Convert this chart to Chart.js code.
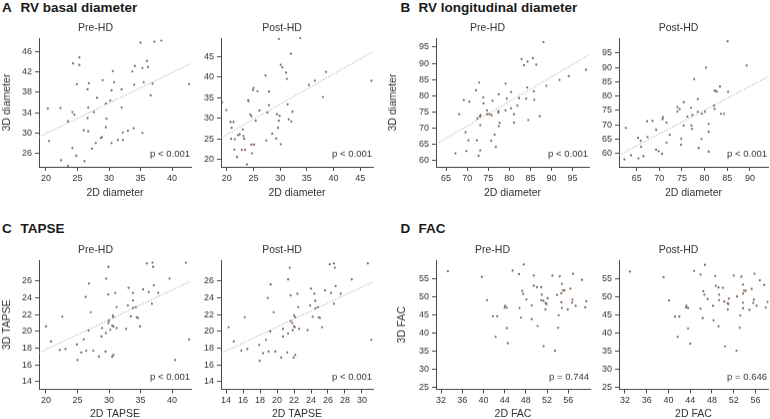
<!DOCTYPE html>
<html>
<head>
<meta charset="utf-8">
<script src="https://cdn.jsdelivr.net/npm/chart.js@4.4.0/dist/chart.umd.min.js"></script>
<style>
  body { margin: 0; width: 770px; height: 419px; overflow: hidden; background: #fff; position: relative;
         font-family: "Liberation Sans", Arial, sans-serif; }
  canvas { position: absolute; }
  .head { position: absolute; font-weight: bold; font-size: 13.5px; line-height: 15px; color: #1a1a1a; white-space: nowrap; }
</style>
</head>
<body>
<div class="head" style="left:2px;top:0px">A</div>
<div class="head" style="left:20.5px;top:0px">RV basal diameter</div>
<div class="head" style="left:400.5px;top:0px">B</div>
<div class="head" style="left:418.5px;top:0px">RV longitudinal diameter</div>
<div class="head" style="left:2px;top:221px">C</div>
<div class="head" style="left:20.5px;top:221px">TAPSE</div>
<div class="head" style="left:400.5px;top:221px">D</div>
<div class="head" style="left:418.5px;top:221px">FAC</div>
<script>
// ---- data ----
const basalPreX = [35.0, 37.2, 38.3, 25.3, 24.3, 25.3, 36.0, 34.1, 36.2, 35.3, 30.6, 33.7, 24.9, 26.8, 29.0, 30.8, 35.5, 34.0, 36.9, 42.7, 26.6, 30.4, 32.0, 28.1, 36.6, 30.2, 29.5, 26.7, 32.0, 20.3, 22.3, 24.2, 24.5, 27.6, 26.6, 29.6, 23.5, 29.5, 26.0, 26.7, 33.9, 33.0, 32.2, 35.3, 28.7, 28.9, 27.9, 30.4, 31.4, 32.2, 20.5, 27.3, 24.2, 24.8, 22.4, 26.1, 23.5];
const basalPreY = [47.8, 48.0, 48.2, 44.9, 43.7, 43.4, 44.2, 43.2, 43.0, 42.8, 42.2, 42.1, 39.6, 39.8, 40.4, 40.0, 40.0, 39.5, 39.7, 39.6, 38.6, 38.4, 38.6, 36.9, 37.4, 36.4, 35.8, 35.0, 35.0, 34.8, 34.9, 34.1, 33.6, 34.1, 32.9, 32.8, 32.3, 31.1, 30.5, 30.3, 30.9, 30.4, 30.1, 30.0, 29.0, 29.2, 28.0, 28.0, 28.6, 28.6, 28.4, 26.9, 27.0, 25.5, 24.6, 24.4, 23.5];
const basalPostX = [29.75, 33.75, 32.0, 30.1, 30.4, 38.6, 31.1, 31.25, 27.25, 36.5, 35.4, 47.1, 25.0, 24.9, 25.75, 27.9, 38.0, 24.0, 24.05, 19.1, 27.9, 31.4, 19.9, 26.1, 27.6, 32.3, 29.4, 29.9, 24.4, 24.6, 20.7, 21.25, 25.4, 29.75, 31.6, 32.1, 20.9, 29.6, 23.0, 22.4, 22.1, 23.1, 23.25, 28.5, 20.8, 21.5, 29.25, 27.4, 24.6, 25.1, 30.1, 21.4, 22.8, 23.4, 24.7, 21.9, 23.75];
const basalPostY = [49.3, 49.5, 45.7, 43.0, 42.4, 41.3, 41.1, 39.6, 40.4, 39.15, 38.1, 39.15, 37.4, 36.9, 36.6, 36.5, 35.2, 34.4, 34.2, 33.9, 33.2, 33.4, 32.0, 31.9, 31.4, 31.6, 31.0, 30.6, 30.95, 30.5, 29.1, 29.1, 29.4, 29.4, 29.7, 29.25, 27.7, 27.7, 27.3, 26.1, 25.9, 25.7, 25.0, 26.25, 25.0, 24.9, 25.1, 24.6, 23.6, 23.6, 23.7, 22.4, 22.35, 22.35, 21.5, 20.6, 18.8];

const longPreX = [88.1, 82.9, 84.3, 85.6, 83.5, 86.4, 91.9, 94.1, 88.8, 84.25, 72.85, 79.1, 72.1, 77.5, 80.4, 85.8, 73.8, 79.4, 82.3, 84.0, 85.9, 69.2, 70.5, 76.0, 73.9, 81.9, 80.4, 74.7, 77.4, 77.4, 79.1, 68.1, 74.75, 75.3, 75.8, 73.2, 73.0, 81.1, 87.2, 72.4, 84.5, 81.1, 77.7, 77.5, 73.1, 69.6, 76.5, 70.3, 72.3, 75.7, 76.8, 69.8, 73.1, 72.7, 67.2, 98.2];
const longPreY = [96.55, 91.3, 90.5, 91.6, 89.4, 89.6, 84.85, 86.0, 83.0, 82.5, 84.0, 83.7, 81.6, 80.4, 81.1, 81.3, 79.4, 79.05, 79.2, 79.05, 78.7, 78.6, 78.1, 78.4, 77.6, 76.9, 76.05, 75.4, 75.2, 74.7, 75.4, 74.2, 74.2, 74.2, 73.9, 73.9, 73.5, 74.2, 73.6, 72.9, 72.4, 71.6, 71.5, 70.5, 70.8, 68.6, 67.9, 66.1, 66.1, 66.0, 64.1, 62.8, 63.0, 61.35, 62.1, 88.0];
const longPostX = [85.1, 89.3, 80.3, 77.7, 83.4, 82.2, 82.5, 82.7, 85.2, 78.5, 75.4, 82.1, 82.2, 74.0, 74.5, 77.0, 74.0, 78.5, 80.1, 79.4, 83.6, 84.3, 77.3, 76.2, 70.8, 70.7, 67.3, 68.5, 71.6, 80.9, 75.4, 77.1, 77.2, 69.3, 80.9, 72.3, 67.4, 65.3, 65.9, 74.85, 79.3, 71.6, 74.8, 66.0, 62.6, 69.3, 69.85, 70.6, 78.7, 80.9, 66.5, 63.75, 65.4, 62.3];
const longPostY = [99.1, 90.6, 89.9, 85.9, 83.3, 81.9, 81.7, 81.6, 81.5, 78.9, 77.85, 76.7, 75.5, 76.1, 75.4, 75.9, 74.6, 74.5, 74.5, 73.8, 73.8, 73.8, 73.4, 72.8, 72.6, 71.9, 71.2, 71.3, 70.7, 70.3, 69.7, 69.7, 68.5, 68.2, 67.5, 66.5, 65.7, 65.4, 64.4, 65.1, 65.0, 63.7, 63.0, 62.3, 68.9, 61.3, 60.7, 59.8, 61.9, 60.6, 59.0, 59.3, 58.25, 57.9];

const tapsePreX = [29.9, 36.0, 36.9, 37.0, 42.2, 29.55, 39.6, 26.8, 37.1, 33.1, 35.4, 31.0, 33.8, 36.3, 37.8, 29.9, 26.3, 33.8, 36.8, 33.0, 34.25, 31.2, 33.8, 27.1, 22.6, 33.45, 30.6, 30.7, 34.4, 34.6, 30.0, 29.9, 20.0, 30.5, 30.7, 34.9, 28.9, 31.2, 32.7, 30.2, 26.75, 29.5, 28.8, 26.0, 42.7, 20.8, 22.2, 23.1, 24.9, 25.6, 26.4, 27.5, 29.45, 30.7, 30.5, 28.4, 25.0, 40.5];
const tapsePreY = [27.7, 28.1, 28.2, 27.7, 28.2, 26.3, 26.3, 25.7, 25.5, 25.2, 25.0, 24.6, 24.6, 24.7, 24.6, 24.4, 24.1, 23.7, 23.3, 23.1, 22.9, 22.9, 22.8, 22.3, 21.75, 21.8, 21.9, 21.7, 21.7, 21.6, 21.3, 21.0, 20.6, 20.7, 20.6, 20.6, 20.4, 20.4, 20.3, 20.2, 20.1, 19.8, 19.4, 19.05, 19.05, 18.8, 17.8, 17.9, 18.45, 17.5, 17.7, 17.7, 17.6, 17.2, 17.0, 17.0, 16.6, 16.6];
const tapsePostX = [21.5, 26.2, 26.7, 26.8, 30.7, 21.3, 28.8, 19.25, 26.9, 24.0, 25.65, 22.4, 24.4, 26.35, 27.5, 21.6, 18.9, 24.5, 26.7, 23.9, 24.8, 22.5, 24.5, 19.6, 16.2, 24.2, 22.0, 22.15, 24.9, 25.05, 21.6, 21.8, 14.3, 22.0, 22.1, 25.3, 20.7, 22.6, 23.6, 21.85, 19.2, 21.3, 20.7, 18.7, 31.1, 14.9, 15.8, 16.5, 17.9, 18.35, 19.0, 19.8, 21.2, 22.15, 21.95, 20.5, 17.95];
const tapsePostY = [27.6, 28.0, 28.1, 27.6, 28.1, 26.2, 26.2, 25.6, 25.4, 25.1, 24.9, 24.5, 24.5, 24.6, 24.5, 24.3, 24.0, 23.65, 23.3, 23.1, 22.9, 22.9, 22.75, 22.3, 21.7, 21.75, 21.9, 21.7, 21.7, 21.6, 21.25, 21.0, 20.5, 20.6, 20.5, 20.5, 20.3, 20.3, 20.15, 20.15, 20.0, 19.75, 19.4, 19.0, 19.0, 18.8, 17.7, 17.9, 18.4, 17.4, 17.6, 17.6, 17.5, 17.2, 16.9, 16.9, 16.5];

const facPreX = [33.3, 39.7, 47.6, 45.5, 46.7, 49.5, 53.0, 54.4, 56.9, 58.6, 54.8, 50.1, 50.9, 49.5, 56.4, 55.0, 55.3, 47.3, 47.5, 51.0, 53.9, 54.7, 40.7, 48.1, 50.9, 52.1, 56.8, 56.7, 51.3, 51.7, 51.9, 54.7, 44.1, 49.1, 57.4, 44.0, 44.4, 46.8, 51.7, 54.8, 55.9, 41.8, 42.6, 47.1, 54.2, 49.1, 50.2, 44.4, 54.1, 42.3, 44.6, 51.35, 53.5, 59.2, 59.4];
const facPreY = [57.2, 55.65, 59.1, 57.4, 56.4, 56.0, 56.0, 55.8, 56.5, 54.8, 53.7, 52.8, 52.8, 53.2, 52.4, 51.9, 51.9, 51.75, 50.9, 50.7, 50.6, 51.1, 49.2, 49.4, 49.2, 49.7, 49.3, 48.5, 49.0, 48.4, 48.1, 48.6, 47.6, 47.7, 47.6, 47.1, 47.1, 47.0, 46.6, 47.0, 46.55, 44.7, 44.7, 44.3, 45.0, 43.9, 42.0, 41.4, 41.5, 39.0, 37.2, 36.4, 35.1, 47.2, 48.9];
const facPostX = [32.9, 39.1, 46.7, 44.7, 45.9, 48.6, 52.0, 53.4, 55.8, 56.8, 53.7, 49.2, 50.0, 48.7, 55.3, 53.9, 54.2, 46.4, 46.6, 49.3, 52.6, 53.7, 40.1, 47.2, 49.3, 51.1, 55.7, 55.6, 50.25, 50.9, 51.0, 53.7, 43.3, 48.2, 56.2, 43.2, 43.6, 45.9, 50.9, 53.7, 54.9, 41.2, 42.0, 46.3, 53.2, 48.3, 49.2, 43.6, 53.1, 41.7, 44.0, 50.4, 52.5, 57.6, 58.2, 57.9];
const facPostY = [57.1, 55.55, 59.0, 57.3, 56.3, 55.9, 56.0, 55.7, 56.5, 54.7, 53.5, 52.7, 52.6, 53.15, 52.3, 51.8, 51.8, 51.7, 50.7, 50.7, 50.2, 51.0, 49.1, 49.5, 49.2, 49.6, 49.3, 48.4, 48.8, 48.35, 48.1, 48.5, 47.6, 47.6, 47.6, 47.1, 47.0, 46.8, 46.6, 46.9, 46.5, 44.6, 44.6, 44.2, 44.9, 43.6, 41.9, 41.3, 41.5, 39.0, 37.1, 36.35, 35.15, 53.4, 48.7, 47.1];

// fitted lines (end points)
const basalPreFitX = [18.9, 43], basalPreFitY = [29.2, 43.7];
const basalPostFitX = [18.9, 47.4], basalPostFitY = [25.3, 46.2];
const longPreFitX = [62.6, 98.9], longPreFitY = [64.9, 92.6];
const longPostFitX = [61.1, 94], longPostFitY = [59.4, 86.7];
const tapsePreFitX = [18.9, 43], tapsePreFitY = [17.45, 26.0];
const tapsePostFitX = [13.4, 31.3], tapsePostFitY = [17.4, 25.9];

// tick labels
const basalPreXTicks = [20, 25, 30, 35, 40], basalPreYTicks = [26, 30, 34, 38, 42, 46];
const basalPostXTicks = [20, 25, 30, 35, 40, 45], basalPostYTicks = [20, 25, 30, 35, 40, 45];
const longPreXTicks = [65, 70, 75, 80, 85, 90, 95], longPreYTicks = [60, 65, 70, 75, 80, 85, 90, 95];
const longPostXTicks = [65, 70, 75, 80, 85, 90], longPostYTicks = [60, 65, 70, 75, 80, 85, 90, 95];
const tapsePreXTicks = [20, 25, 30, 35, 40], tapsePreYTicks = [14, 16, 18, 20, 22, 24, 26];
const tapsePostXTicks = [14, 16, 18, 20, 22, 24, 26, 28, 30], tapsePostYTicks = [14, 16, 18, 20, 22, 24, 26];
const facPreXTicks = [32, 36, 40, 44, 48, 52, 56], facPreYTicks = [25, 30, 35, 40, 45, 50, 55];
const facPostXTicks = [32, 36, 40, 44, 48, 52, 56], facPostYTicks = [25, 30, 35, 40, 45, 50, 55];

// ---- drawing ----
const FONT = '"Liberation Sans", Arial, sans-serif';
const DOT = '#7f6253';
const AXIS = '#4a4a4a';
const TXT = '#333333';

const pText = {
  id: 'ptext',
  afterDraw(chart, args, opts) {
    const { ctx, chartArea } = chart;
    ctx.save();
    ctx.font = '9.5px ' + FONT;
    ctx.fillStyle = TXT;
    ctx.textAlign = 'right';
    ctx.textBaseline = 'middle';
    ctx.fillText(opts.text, chartArea.right - 1, chartArea.bottom - 12.5);
    ctx.restore();
  }
};

function panel(c) {
  const T = 16, R = 4;
  const w = c.yW + (c.right - c.left) + R;
  const h = T + (c.bottom - c.top) + c.xH;
  const cv = document.createElement('canvas');
  cv.width = w; cv.height = h;
  cv.style.width = w + 'px'; cv.style.height = h + 'px';
  cv.style.left = (c.left - c.yW) + 'px';
  cv.style.top = (c.top - T) + 'px';
  document.body.appendChild(cv);

  const datasets = [{
    data: c.xs.map((x, i) => ({ x: x, y: c.ys[i] })),
    pointRadius: 1.1, pointBackgroundColor: DOT, pointBorderWidth: 0,
    clip: false, order: 1
  }];
  if (c.fitX) {
    datasets.push({
      data: c.fitX.map((x, i) => ({ x: x, y: c.fitY[i] })),
      showLine: true, pointRadius: 0, borderColor: '#a8a8a8', borderWidth: 0.9,
      borderDash: [1.5, 1.5], order: 2
    });
  }

  new Chart(cv, {
    type: 'scatter',
    data: { datasets },
    options: {
      responsive: false,
      animation: false,
      layout: { padding: { left: 0, right: R, top: 0, bottom: 0 } },
      plugins: {
        legend: { display: false },
        tooltip: { enabled: false },
        title: { display: true, text: c.title, color: TXT,
                 font: { family: FONT, size: 10.5, weight: 'normal' },
                 padding: { top: 0, bottom: T - 12.6 } },
        ptext: { text: c.p }
      },
      scales: {
        x: {
          type: 'linear', min: c.xMin, max: c.xMax,
          afterBuildTicks: s => { s.ticks = c.xTicks.map(v => ({ value: v })); },
          afterFit: s => { s.height = c.xH; },
          grid: { drawOnChartArea: false, drawTicks: true, tickLength: 4, color: AXIS },
          border: { color: AXIS, width: 1 },
          ticks: { color: TXT, padding: 2, maxRotation: 0, font: { family: FONT, size: 9 } },
          title: { display: true, text: c.xTitle, color: TXT, padding: { top: 0, bottom: 1 },
                   font: { family: FONT, size: 10.5 } }
        },
        y: {
          type: 'linear', min: c.yMin, max: c.yMax,
          afterBuildTicks: s => { s.ticks = c.yTicks.map(v => ({ value: v })); },
          afterFit: s => { s.width = c.yW; },
          grid: { drawOnChartArea: false, drawTicks: true, tickLength: 4, color: AXIS },
          border: { color: AXIS, width: 1 },
          ticks: { color: TXT, padding: 3, font: { family: FONT, size: 9 } },
          title: { display: !!c.yTitle, text: c.yTitle || '', color: TXT, padding: { top: 1, bottom: 0 },
                   font: { family: FONT, size: 10.5 } }
        }
      }
    },
    plugins: [pText]
  });
}

panel({ left: 39, right: 191, top: 38, bottom: 166.7, yW: 39, xH: 33,
  xMin: 18.9, xMax: 43, yMin: 23.3, yMax: 48.7, xTicks: basalPreXTicks, yTicks: basalPreYTicks,
  xs: basalPreX, ys: basalPreY, fitX: basalPreFitX, fitY: basalPreFitY,
  title: 'Pre-HD', xTitle: '2D diameter', yTitle: '3D diameter', p: 'p < 0.001' });
panel({ left: 221, right: 373, top: 38, bottom: 166.7, yW: 30, xH: 33,
  xMin: 18.9, xMax: 47.4, yMin: 18.2, yMax: 49.5, xTicks: basalPostXTicks, yTicks: basalPostYTicks,
  xs: basalPostX, ys: basalPostY, fitX: basalPostFitX, fitY: basalPostFitY,
  title: 'Post-HD', xTitle: '2D diameter', p: 'p < 0.001' });
panel({ left: 436, right: 589, top: 38, bottom: 166.7, yW: 50, xH: 33,
  xMin: 62.6, xMax: 98.9, yMin: 57.9, yMax: 97.8, xTicks: longPreXTicks, yTicks: longPreYTicks,
  xs: longPreX, ys: longPreY, fitX: longPreFitX, fitY: longPreFitY,
  title: 'Pre-HD', xTitle: '2D diameter', yTitle: '3D diameter', p: 'p < 0.001' });
panel({ left: 619, right: 768, top: 38, bottom: 166.7, yW: 30, xH: 33,
  xMin: 61.1, xMax: 94, yMin: 55.3, yMax: 100.2, xTicks: longPostXTicks, yTicks: longPostYTicks,
  xs: longPostX, ys: longPostY, fitX: longPostFitX, fitY: longPostFitY,
  title: 'Post-HD', xTitle: '2D diameter', p: 'p < 0.001' });
panel({ left: 39, right: 191, top: 260, bottom: 389, yW: 39, xH: 31.5,
  xMin: 18.9, xMax: 43, yMin: 13.1, yMax: 28.5, xTicks: tapsePreXTicks, yTicks: tapsePreYTicks,
  xs: tapsePreX, ys: tapsePreY, fitX: tapsePreFitX, fitY: tapsePreFitY,
  title: 'Pre-HD', xTitle: '2D TAPSE', yTitle: '3D TAPSE', p: 'p < 0.001' });
panel({ left: 221, right: 373, top: 260, bottom: 389, yW: 30, xH: 31.5,
  xMin: 13.4, xMax: 31.3, yMin: 13.1, yMax: 28.5, xTicks: tapsePostXTicks, yTicks: tapsePostYTicks,
  xs: tapsePostX, ys: tapsePostY, fitX: tapsePostFitX, fitY: tapsePostFitY,
  title: 'Post-HD', xTitle: '2D TAPSE', p: 'p < 0.001' });
panel({ left: 436, right: 590, top: 260, bottom: 389, yW: 41, xH: 31.5,
  xMin: 31.05, xMax: 60.1, yMin: 24.4, yMax: 60.3, xTicks: facPreXTicks, yTicks: facPreYTicks,
  xs: facPreX, ys: facPreY,
  title: 'Pre-HD', xTitle: '2D FAC', yTitle: '3D FAC', p: 'p = 0.744' });
panel({ left: 619, right: 768, top: 260, bottom: 389, yW: 30, xH: 31.5,
  xMin: 30.9, xMax: 58.3, yMin: 24.4, yMax: 60.3, xTicks: facPostXTicks, yTicks: facPostYTicks,
  xs: facPostX, ys: facPostY,
  title: 'Post-HD', xTitle: '2D FAC', p: 'p = 0.646' });
</script>
</body>
</html>
